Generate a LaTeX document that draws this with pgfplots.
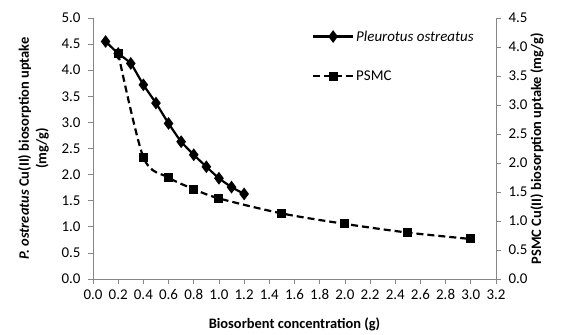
\documentclass[border=0pt]{standalone}
\usepackage{fontspec}
\setmainfont{Carlito}
\usepackage{pgfplots}
\pgfplotsset{compat=1.18}
\definecolor{axgray}{HTML}{868686}
\pgfplotsset{
  common/.style={
    scale only axis, width=403bp, height=261bp,
    xmin=0, xmax=3.2,
    xtick={0,0.2,0.4,0.6,0.8,1.0,1.2,1.4,1.6,1.8,2.0,2.2,2.4,2.6,2.8,3.0,3.2},
    tick align=outside, major tick length=5bp,
    axis line style={draw=axgray, line width=0.7bp},
    tick style={draw=axgray, line width=0.7bp},
    tick label style={font=\fontsize{15}{18}\selectfont, text=black},
    label style={font=\bfseries\fontsize{14.5}{17.5}\selectfont},
    /pgf/number format/fixed,
    /pgf/number format/fixed zerofill,
    /pgf/number format/precision=1,
    /pgf/number format/assume math mode=true,
    clip=false,
  },
  legend image code/.code={
    \draw[mark repeat=2,mark phase=2,#1] plot coordinates {(0bp,0bp) (20bp,0bp) (40bp,0bp)};
  },
}
\begin{document}
\begin{tikzpicture}
\useasboundingbox (-93bp,-56bp) rectangle (476bp,279bp);
\begin{axis}[common,
  axis x line*=bottom, axis y line*=left,
  ymin=0, ymax=5, ytick={0,0.5,1,1.5,2,2.5,3,3.5,4,4.5,5},
  yticklabel style={xshift=-4bp},
  xticklabel style={yshift=-2bp},
  xlabel={Biosorbent concentration (g)},
  xlabel style={yshift=-11bp},
  ylabel={\textit{P. ostreatus} Cu(II) biosorption uptake\\(mg/g)},
  ylabel style={align=center, yshift=6bp},
  legend style={draw=none, fill=none, at={(0.543,0.96)}, anchor=north west,
    inner sep=0pt, row sep=24bp, font=\fontsize{15}{18}\selectfont},
  legend cell align=left,
]
\addplot[black, line width=2.2bp, smooth, tension=0.3, mark=diamond*, mark size=4.6bp,
  mark options={solid}]
  coordinates {(0.1,4.55) (0.2,4.32) (0.3,4.13) (0.4,3.72) (0.5,3.37) (0.6,2.98)
  (0.7,2.63) (0.8,2.38) (0.9,2.15) (1.0,1.93) (1.1,1.76) (1.2,1.63)};
\addlegendentry{\textit{Pleurotus ostreatus}}
\addlegendimage{black, line width=2.2bp, dash pattern=on 7bp off 4bp, mark=square*, mark size=3.4bp, mark options={solid}}
\addlegendentry{PSMC}
\end{axis}
\begin{axis}[common,
  axis x line=none, axis y line*=right,
  ymin=0, ymax=4.5, ytick={0,0.5,1,1.5,2,2.5,3,3.5,4,4.5},
  yticklabel style={xshift=4bp},
  ylabel={PSMC Cu(II) biosorption uptake (mg/g)},
  ylabel style={yshift=4bp},
]
\addplot[black, line width=2.2bp, smooth, tension=0.5, dash pattern=on 7bp off 4bp,
  mark=square*, mark size=3.4bp, mark options={solid}]
  coordinates {(0.2,3.89) (0.4,2.10) (0.6,1.75) (0.8,1.55) (1.0,1.39) (1.5,1.13)
  (2.0,0.95) (2.5,0.80) (3.0,0.69)};
\end{axis}
\end{tikzpicture}
\end{document}
